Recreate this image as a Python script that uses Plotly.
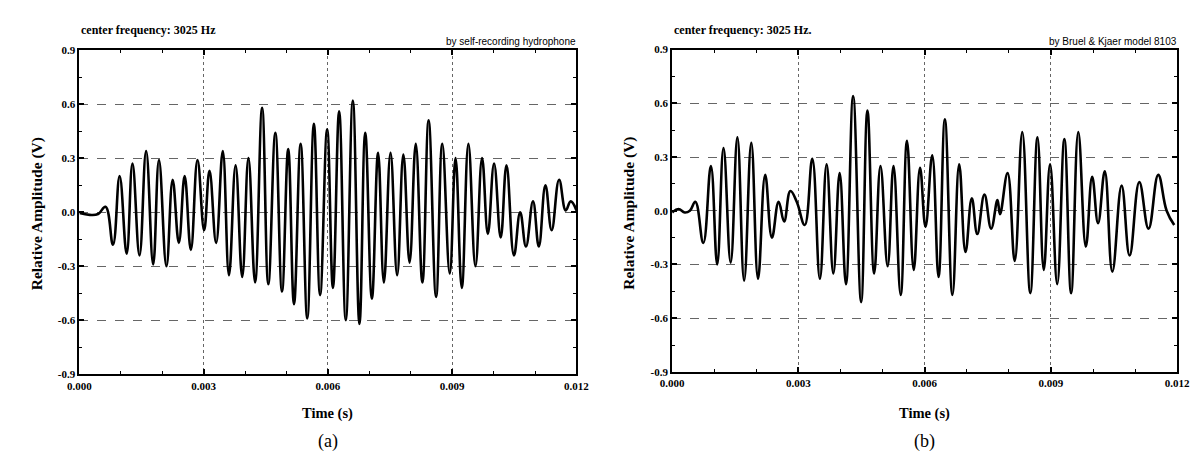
import plotly.graph_objects as go

# ---------------- data ----------------
# Panel (a): self-recording hydrophone -- waveform turning points (time s, amplitude V)
time_a = [0.00000, 0.00025, 0.00045, 0.00063, 0.00081, 0.00097, 0.00114, 0.00128, 0.00145, 0.00161,
          0.00178, 0.00192, 0.00210, 0.00225, 0.00240, 0.00254, 0.00269, 0.00285, 0.00301, 0.00314,
          0.00330, 0.00346, 0.00361, 0.00377, 0.00393, 0.00408, 0.00424, 0.00441, 0.00456, 0.00473,
          0.00489, 0.00504, 0.00518, 0.00534, 0.00550, 0.00566, 0.00581, 0.00598, 0.00612, 0.00627,
          0.00643, 0.00660, 0.00676, 0.00690, 0.00706, 0.00721, 0.00735, 0.00751, 0.00767, 0.00782,
          0.00797, 0.00812, 0.00828, 0.00843, 0.00861, 0.00876, 0.00894, 0.00908, 0.00923, 0.00939,
          0.00956, 0.00972, 0.00986, 0.01001, 0.01017, 0.01031, 0.01049, 0.01064, 0.01078, 0.01095,
          0.01109, 0.01125, 0.01140, 0.01158, 0.01174, 0.01186, 0.01200]
amp_a = [-0.005, -0.015, -0.01, 0.03, -0.18, 0.20, -0.23, 0.27, -0.24, 0.34,
         -0.29, 0.29, -0.30, 0.18, -0.17, 0.20, -0.21, 0.29, -0.10, 0.23,
         -0.17, 0.34, -0.35, 0.26, -0.36, 0.30, -0.39, 0.58, -0.40, 0.44,
         -0.44, 0.35, -0.51, 0.38, -0.59, 0.49, -0.46, 0.46, -0.42, 0.56,
         -0.60, 0.62, -0.62, 0.44, -0.48, 0.33, -0.39, 0.33, -0.35, 0.32,
         -0.28, 0.38, -0.39, 0.51, -0.47, 0.38, -0.34, 0.30, -0.42, 0.38,
         -0.30, 0.30, -0.12, 0.27, -0.14, 0.26, -0.24, 0.00, -0.19, 0.06,
         -0.19, 0.15, -0.10, 0.18, 0.01, 0.06, 0.01]

# Panel (b): Bruel & Kjaer model 8103 -- waveform turning points (time s, amplitude V)
time_b = [0.00000, 0.00015, 0.00030, 0.00042, 0.00055, 0.00074, 0.00092, 0.00107, 0.00122, 0.00139,
          0.00155, 0.00171, 0.00188, 0.00204, 0.00221, 0.00237, 0.00253, 0.00266, 0.00281, 0.00296,
          0.00315, 0.00333, 0.00351, 0.00367, 0.00383, 0.00398, 0.00413, 0.00430, 0.00449, 0.00464,
          0.00480, 0.00495, 0.00512, 0.00526, 0.00543, 0.00558, 0.00574, 0.00589, 0.00602, 0.00618,
          0.00633, 0.00648, 0.00666, 0.00682, 0.00697, 0.00712, 0.00725, 0.00742, 0.00758, 0.00773,
          0.00779, 0.00797, 0.00814, 0.00832, 0.00851, 0.00868, 0.00883, 0.00898, 0.00915, 0.00932,
          0.00948, 0.00965, 0.00983, 0.00998, 0.01012, 0.01028, 0.01046, 0.01068, 0.01087, 0.01110,
          0.01132, 0.01155, 0.01175, 0.01193]
amp_b = [-0.01, 0.01, -0.01, 0.00, 0.05, -0.18, 0.25, -0.30, 0.35, -0.29,
         0.41, -0.39, 0.38, -0.38, 0.20, -0.15, 0.05, -0.06, 0.11, 0.05,
         -0.08, 0.29, -0.38, 0.26, -0.35, 0.21, -0.41, 0.64, -0.51, 0.56,
         -0.35, 0.25, -0.31, 0.25, -0.47, 0.39, -0.33, 0.24, -0.09, 0.31,
         -0.37, 0.51, -0.47, 0.26, -0.23, 0.07, -0.13, 0.09, -0.10, 0.06,
         -0.02, 0.21, -0.28, 0.44, -0.46, 0.41, -0.33, 0.26, -0.41, 0.40,
         -0.46, 0.44, -0.20, 0.19, -0.07, 0.22, -0.34, 0.14, -0.25, 0.16,
         -0.10, 0.20, 0.00, -0.08]

x_tick_vals = [0.000, 0.003, 0.006, 0.009, 0.012]
x_tick_labels = ["0.000", "0.003", "0.006", "0.009", "0.012"]
y_tick_vals = [0.9, 0.6, 0.3, 0.0, -0.3, -0.6, -0.9]
y_tick_labels = ["0.9", "0.6", "0.3", "0.0", "-0.3", "-0.6", "-0.9"]

top_left_texts = ["center frequency: 3025 Hz", "center frequency: 3025 Hz."]
top_right_texts = ["by self-recording hydrophone", "by Bruel & Kjaer model 8103"]
panel_labels = ["(a)", "(b)"]

# ---------------- figure ----------------
W, H = 1204, 461
SERIF = "Liberation Serif, Times New Roman, serif"
SANS = "Liberation Sans, Arial, sans-serif"

fig = go.Figure()
fig.add_trace(go.Scatter(x=time_a, y=amp_a, mode="lines", xaxis="x", yaxis="y",
                         line=dict(color="black", width=2.6, shape="spline", smoothing=1.2),
                         showlegend=False, hoverinfo="skip"))
fig.add_trace(go.Scatter(x=time_b, y=amp_b, mode="lines", xaxis="x2", yaxis="y2",
                         line=dict(color="black", width=2.6, shape="spline", smoothing=1.2),
                         showlegend=False, hoverinfo="skip"))

tickfont = dict(family=SERIF, size=11, color="black", weight="bold")

def xax(domain, anchor):
    return dict(domain=domain, anchor=anchor, range=[0, 0.012],
                tickvals=x_tick_vals, ticktext=x_tick_labels,
                showline=True, linecolor="black", linewidth=2, mirror="ticks",
                ticks="inside", ticklen=5, tickwidth=1.5, tickcolor="black",
                showgrid=True, gridcolor="#666666", gridwidth=1, griddash="dot",
                zeroline=False, tickfont=tickfont, fixedrange=True,
                minor=dict(dtick=0.001, tick0=0, ticks="inside", ticklen=3,
                           tickwidth=1.2, tickcolor="black", showgrid=False))

def yax(domain, anchor):
    return dict(domain=domain, anchor=anchor, range=[-0.9, 0.9],
                tickvals=y_tick_vals, ticktext=y_tick_labels,
                showline=True, linecolor="black", linewidth=2, mirror="ticks",
                ticks="inside", ticklen=5, tickwidth=1.5, tickcolor="black",
                showgrid=True, gridcolor="#666666", gridwidth=1, griddash="dash",
                zeroline=False, tickfont=tickfont, fixedrange=True,
                minor=dict(dtick=0.15, tick0=0, ticks="inside", ticklen=3,
                           tickwidth=1.2, tickcolor="black", showgrid=False))

def px(x):
    return x / W

def py(y):
    return 1 - y / H

fig.update_layout(
    width=W, height=H,
    margin=dict(l=0, r=0, t=0, b=0),
    paper_bgcolor="white", plot_bgcolor="white",
    xaxis=xax([px(60.7), px(568.3)], "y"),
    yaxis=yax([py(370), py(37)], "x"),
    xaxis2=xax([px(666), px(1181.7)], "y2"),
    yaxis2=yax([py(367.5), py(36.5)], "x2"),
)

ann = []
panels = [
    dict(left=60.7, right=568.3, ylab_x=17),
    dict(left=666, right=1181.7, ylab_x=622),
]
for i, p in enumerate(panels):
    cx = (p["left"] + p["right"]) / 2
    ann.append(dict(text=top_left_texts[i], x=px(p["left"]), y=py(16), xref="paper", yref="paper",
                    xanchor="left", yanchor="middle", showarrow=False,
                    font=dict(family=SERIF, size=12, color="black", weight="bold")))
    ann.append(dict(text=top_right_texts[i], x=px(p["right"] + 2), y=py(28), xref="paper", yref="paper",
                    xanchor="right", yanchor="middle", showarrow=False,
                    font=dict(family=SANS, size=10, color="black")))
    ann.append(dict(text="Relative Amplitude (V)", x=px(p["ylab_x"]), y=py(205), xref="paper", yref="paper",
                    xanchor="center", yanchor="middle", textangle=-90, showarrow=False,
                    font=dict(family=SERIF, size=15.5, color="black", weight="bold")))
    ann.append(dict(text="Time (s)", x=px(cx), y=py(410), xref="paper", yref="paper",
                    xanchor="center", yanchor="middle", showarrow=False,
                    font=dict(family=SERIF, size=14.5, color="black", weight="bold")))
    ann.append(dict(text=panel_labels[i], x=px(cx), y=py(439), xref="paper", yref="paper",
                    xanchor="center", yanchor="middle", showarrow=False,
                    font=dict(family=SERIF, size=18, color="black")))
fig.update_layout(annotations=ann)

fig.write_html("out.html")
